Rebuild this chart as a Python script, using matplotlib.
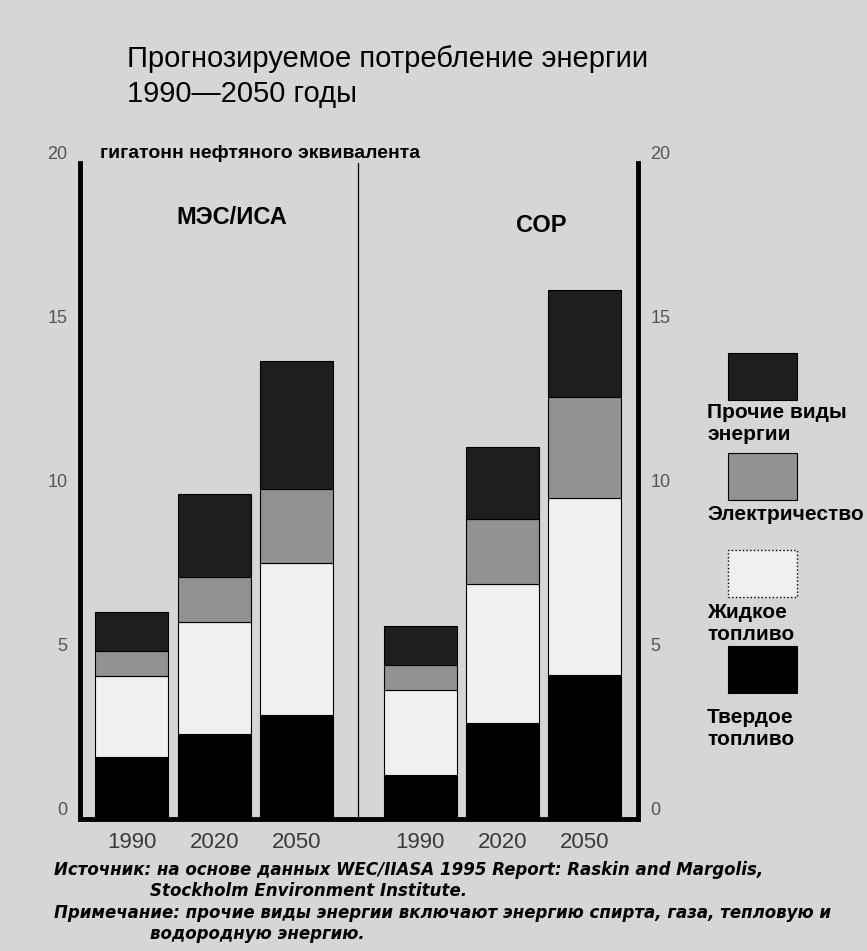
import matplotlib
matplotlib.use('Agg')
import matplotlib.pyplot as plt
from matplotlib.patches import Rectangle

# values, gigatonnes of oil equivalent
years = ['1990', '2020', '2050', '1990', '2020', '2050']
scenarios = ['МЭС/ИСА', 'СОР']
solid = [1.90, 2.59, 3.17, 1.34, 2.93, 4.39]
liquid = [2.46, 3.43, 4.64, 2.59, 4.23, 5.40]
electricity = [0.77, 1.35, 2.24, 0.77, 1.99, 3.08]
other = [1.19, 2.54, 3.92, 1.18, 2.19, 3.26]

legend_lines = [['Прочие виды', 'энергии'], ['Электричество'],
                ['Жидкое', 'топливо'], ['Твердое', 'топливо']]

title_lines = ['Прогнозируемое потребление энергии', '1990—2050 годы']
unit_label = 'гигатонн нефтяного эквивалента'
footer = ['Источник: на основе данных WEC/IIASA 1995 Report: Raskin and Margolis,',
          'Stockholm Environment Institute.',
          'Примечание: прочие виды энергии включают энергию спирта, газа, тепловую и',
          'водородную энергию.']

plt.rcParams['font.family'] = ['Liberation Sans', 'DejaVu Sans']

BG = '#d6d6d6'
colors = ['#000000', '#f0f0f0', '#929292', '#1e1e1e']
W, H = 867, 951

fig = plt.figure(figsize=(8.67, 9.51), dpi=100, facecolor=BG)
ax = fig.add_axes([80 / W, 1 - 819 / H, (638 - 80) / W, (819 - 163) / H])
ax.set_facecolor(BG)

x = [0, 1, 2, 3.5, 4.5, 5.5]
bottom = [0] * len(x)
for vals, col in zip([solid, liquid, electricity, other], colors):
    ax.bar(x, vals, width=0.886, bottom=bottom, color=col,
           edgecolor='black', linewidth=0.8, zorder=2)
    bottom = [b + v for b, v in zip(bottom, vals)]

ax.set_xlim(-0.631, 6.144)
ax.set_ylim(0, 20)
ax.axvline(2.744, color='black', lw=0.9, zorder=1)

ax.spines['top'].set_visible(False)
for s in ['left', 'right', 'bottom']:
    ax.spines[s].set_linewidth(3.5)
    ax.spines[s].set_zorder(3)

ax.set_yticks([0, 5, 10, 15, 20])
ax.tick_params(axis='y', length=0, labelleft=True, labelright=True,
               labelsize=13, labelcolor='#555555', pad=9)
for t in ax.yaxis.get_major_ticks():
    t.label1.set_verticalalignment('bottom')
    t.label2.set_verticalalignment('bottom')

ax.set_xticks(x, years)
ax.tick_params(axis='x', length=0, labelsize=16, labelcolor='#3a3a3a', pad=9)

# scenario names
fig.text(232 / W, 1 - 217 / H, scenarios[0], ha='center', va='center',
         fontsize=17, weight='bold')
fig.text(541 / W, 1 - 226 / H, scenarios[1], ha='center', va='center',
         fontsize=17, weight='bold')

# title and unit
fig.text(127 / W, 1 - 67 / H, title_lines[0], va='baseline', fontsize=21)
fig.text(127 / W, 1 - 102 / H, title_lines[1], va='baseline', fontsize=21)
fig.text(100 / W, 1 - 153 / H, unit_label, va='center', fontsize=14, weight='bold')

# legend: swatch above its label
patch_bottoms = [400, 500, 597, 693]
first_baselines = [418, 520, 618, 723]
styles = [dict(facecolor=colors[3], edgecolor='black', lw=0.8),
          dict(facecolor=colors[2], edgecolor='black', lw=0.8),
          dict(facecolor=colors[1], edgecolor='black', lw=1.0, linestyle=':'),
          dict(facecolor=colors[0], edgecolor='black', lw=0.8)]
for lines, pb, bl, st in zip(legend_lines, patch_bottoms, first_baselines, styles):
    fig.add_artist(Rectangle((728 / W, 1 - pb / H), 69 / W, 47 / H,
                             transform=fig.transFigure, **st))
    for i, line in enumerate(lines):
        fig.text(707 / W, 1 - (bl + 22 * i) / H, line, va='baseline',
                 fontsize=15, weight='bold')

# source and note
footer_x = [54, 150, 54, 150]
footer_y = [875, 896, 918, 939]
for txt, fx, fy in zip(footer, footer_x, footer_y):
    fig.text(fx / W, 1 - fy / H, txt, va='baseline', fontsize=12,
             weight='bold', style='italic', family=['DejaVu Sans'])

fig.savefig('out.png', dpi=100, facecolor=fig.get_facecolor())
